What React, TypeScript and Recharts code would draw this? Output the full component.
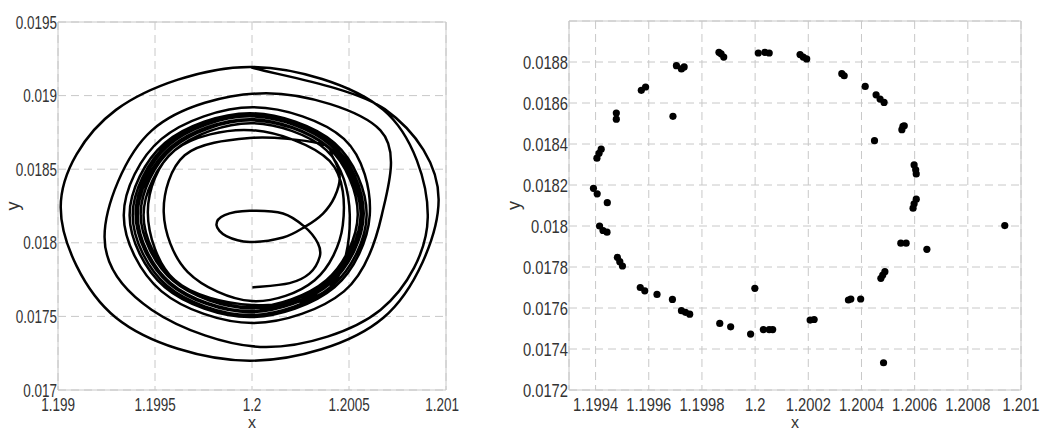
import {
  CartesianGrid,
  Line,
  LineChart,
  ReferenceArea,
  Scatter,
  ScatterChart,
  XAxis,
  YAxis,
} from 'recharts'

// left panel: phase trajectory
const startArc = [
  { x: 1.200002, y: 0.017697 },
  { x: 1.200194, y: 0.017726 },
  { x: 1.200297, y: 0.017792 },
  { x: 1.200349, y: 0.017905 },
  { x: 1.20034, y: 0.017996 },
  { x: 1.200272, y: 0.018108 },
]

const smallLoop = [
  { x: 1.20016, y: 0.018199 },
  { x: 1.199988, y: 0.018217 },
  { x: 1.199859, y: 0.018188 },
  { x: 1.199817, y: 0.01812 },
  { x: 1.199868, y: 0.018045 },
  { x: 1.199988, y: 0.018006 },
  { x: 1.20016, y: 0.018036 },
  { x: 1.200272, y: 0.018108 },
  { x: 1.200366, y: 0.018199 },
  { x: 1.200426, y: 0.018312 },
  { x: 1.200452, y: 0.018448 },
  { x: 1.200416, y: 0.018583 },
  { x: 1.200349, y: 0.018674 },
]

const middleLoops = [
  { x: 1.199988, y: 0.018712 },
  { x: 1.199653, y: 0.018595 },
  { x: 1.199545, y: 0.018208 },
  { x: 1.199669, y: 0.017801 },
  { x: 1.199999, y: 0.017604 },
  { x: 1.200323, y: 0.017746 },
  { x: 1.200468, y: 0.01812 },
  { x: 1.2004, y: 0.018556 },
  { x: 1.199999, y: 0.018765 },
  { x: 1.199602, y: 0.018629 },
  { x: 1.199463, y: 0.018208 },
  { x: 1.199602, y: 0.017746 },
  { x: 1.199999, y: 0.017578 },
  { x: 1.2004, y: 0.017693 },
  { x: 1.200504, y: 0.018188 },
]

const ringLoops = [
  { x: 1.200383, y: 0.01863 },
  { x: 1.199993, y: 0.018813 },
  { x: 1.199603, y: 0.01863 },
  { x: 1.199441, y: 0.018188 },
  { x: 1.199603, y: 0.017746 },
  { x: 1.199993, y: 0.017563 },
  { x: 1.200383, y: 0.017746 },
  { x: 1.200545, y: 0.018188 },

  { x: 1.200394, y: 0.018645 },
  { x: 1.199993, y: 0.018832 },
  { x: 1.199592, y: 0.018645 },
  { x: 1.199426, y: 0.018194 },
  { x: 1.199592, y: 0.017743 },
  { x: 1.199993, y: 0.017556 },
  { x: 1.200394, y: 0.017743 },
  { x: 1.20056, y: 0.018194 },

  { x: 1.200396, y: 0.018649 },
  { x: 1.199988, y: 0.01884 },
  { x: 1.19958, y: 0.018649 },
  { x: 1.199411, y: 0.018188 },
  { x: 1.19958, y: 0.017727 },
  { x: 1.199988, y: 0.017536 },
  { x: 1.200396, y: 0.017727 },
  { x: 1.200565, y: 0.018188 },

  { x: 1.200404, y: 0.018664 },
  { x: 1.199988, y: 0.018859 },
  { x: 1.199572, y: 0.018664 },
  { x: 1.1994, y: 0.018194 },
  { x: 1.199572, y: 0.017724 },
  { x: 1.199988, y: 0.017529 },
  { x: 1.200404, y: 0.017724 },
  { x: 1.200576, y: 0.018194 },

  { x: 1.200414, y: 0.018668 },
  { x: 1.199988, y: 0.018867 },
  { x: 1.199562, y: 0.018668 },
  { x: 1.199385, y: 0.018188 },
  { x: 1.199562, y: 0.017708 },
  { x: 1.199988, y: 0.017509 },
  { x: 1.200414, y: 0.017708 },
  { x: 1.200591, y: 0.018188 },

  { x: 1.200425, y: 0.018678 },
  { x: 1.199988, y: 0.01888 },
  { x: 1.199551, y: 0.018678 },
  { x: 1.199369, y: 0.018188 },
  { x: 1.199551, y: 0.017698 },
  { x: 1.199988, y: 0.017496 },
  { x: 1.200425, y: 0.017698 },
  { x: 1.200607, y: 0.018188 },
]

const outerLoops = [
  { x: 1.200474, y: 0.018706 },
  { x: 1.200004, y: 0.018921 },
  { x: 1.199534, y: 0.018706 },
  { x: 1.199339, y: 0.018188 },
  { x: 1.199534, y: 0.01767 },
  { x: 1.200004, y: 0.017455 },
  { x: 1.200474, y: 0.01767 },
  { x: 1.200669, y: 0.018188 },

  { x: 1.200662, y: 0.018764 },
  { x: 1.200073, y: 0.019016 },
  { x: 1.199484, y: 0.018764 },
  { x: 1.19924, y: 0.01804 },
  { x: 1.199484, y: 0.017544 },
  { x: 1.200073, y: 0.017292 },
  { x: 1.200662, y: 0.017544 },
  { x: 1.200906, y: 0.018174 },

  { x: 1.200677, y: 0.018903 },
  { x: 1.199988, y: 0.019195 },
  { x: 1.199299, y: 0.018903 },
  { x: 1.199014, y: 0.018242 },
  { x: 1.199299, y: 0.017491 },
  { x: 1.199988, y: 0.017199 },
  { x: 1.200677, y: 0.017491 },
  { x: 1.200962, y: 0.01829 },
  { x: 1.200684, y: 0.018908 },
  { x: 1.199996, y: 0.019192 },
]

const trajectory = [...startArc, ...smallLoop, ...middleLoops, ...ringLoops, ...outerLoops]

const trajXTicks = [1.199, 1.1995, 1.2, 1.2005, 1.201]
const trajYTicks = [0.017, 0.0175, 0.018, 0.0185, 0.019, 0.0195]

// right panel: section points
const sectionPoints: [number, number][] = [
  [1.199864, 0.018847], [1.199872, 0.01884], [1.199882, 0.018824],
  [1.200012, 0.018844], [1.200037, 0.018847], [1.200053, 0.018844],
  [1.200169, 0.018836], [1.200181, 0.018824], [1.200194, 0.018815],
  [1.200326, 0.018743], [1.200335, 0.018733],
  [1.200414, 0.018681],
  [1.200455, 0.01864], [1.20047, 0.018619], [1.200485, 0.018603],
  [1.200449, 0.018416],
  [1.200552, 0.01847], [1.200556, 0.018486], [1.200561, 0.018489],
  [1.200598, 0.018298], [1.200604, 0.018274], [1.200606, 0.018254],
  [1.200594, 0.018087], [1.200598, 0.018108], [1.200606, 0.018131],
  [1.200548, 0.017916], [1.200568, 0.017916],
  [1.200646, 0.017886],
  [1.200939, 0.018002],
  [1.200473, 0.017745], [1.20048, 0.017761], [1.200488, 0.017777],
  [1.200483, 0.017333],
  [1.200397, 0.017644],
  [1.200351, 0.017639], [1.20036, 0.017644],
  [1.200207, 0.017541], [1.200222, 0.017544],
  [1.200031, 0.017495], [1.200053, 0.017495], [1.200066, 0.017495],
  [1.199983, 0.017473],
  [1.199999, 0.017696],
  [1.199908, 0.017508],
  [1.199867, 0.017525],
  [1.199723, 0.017587], [1.199738, 0.017579], [1.199754, 0.01757],
  [1.199689, 0.017642],
  [1.199631, 0.017666],
  [1.199568, 0.0177], [1.199585, 0.017684],
  [1.199482, 0.017847], [1.199491, 0.017826], [1.199501, 0.017805],
  [1.199415, 0.018], [1.199428, 0.017978], [1.199443, 0.01797],
  [1.199444, 0.018114],
  [1.199392, 0.018184], [1.199406, 0.018157],
  [1.199405, 0.018331], [1.199413, 0.018355], [1.199421, 0.018375],
  [1.199478, 0.018551], [1.199478, 0.018521],
  [1.199572, 0.018662], [1.199588, 0.018678],
  [1.199691, 0.018535],
  [1.199704, 0.018782], [1.199723, 0.018766], [1.199733, 0.018776],
]

const sectionXTicks = [1.1994, 1.1996, 1.1998, 1.2, 1.2002, 1.2004, 1.2006, 1.2008, 1.201]
const sectionYTicks = [0.0172, 0.0174, 0.0176, 0.0178, 0.018, 0.0182, 0.0184, 0.0186, 0.0188]

const FONT = "'Liberation Sans', Arial, sans-serif"
const TEXT = '#333'
const GRID = '#c8c8c8'

const fmt = (v: number) => String(parseFloat(v.toFixed(6)))

// smooth curve through the points (Catmull-Rom as cubic beziers), so loops stay round
const catmullRom = (context: any) => {
  let pts: number[][] = []
  return {
    areaStart() {},
    areaEnd() {},
    lineStart() {
      pts = []
    },
    point(x: number, y: number) {
      pts.push([+x, +y])
    },
    lineEnd() {
      const n = pts.length
      if (!n) return
      context.moveTo(pts[0][0], pts[0][1])
      for (let i = 0; i < n - 1; i++) {
        const p0 = pts[Math.max(i - 1, 0)]
        const p1 = pts[i]
        const p2 = pts[i + 1]
        const p3 = pts[Math.min(i + 2, n - 1)]
        context.bezierCurveTo(
          p1[0] + (p2[0] - p0[0]) / 6,
          p1[1] + (p2[1] - p0[1]) / 6,
          p2[0] - (p3[0] - p1[0]) / 6,
          p2[1] - (p3[1] - p1[1]) / 6,
          p2[0],
          p2[1],
        )
      }
    },
  }
}

function AxisTick(props: any) {
  const { x, y, payload, vertical, sx } = props
  return (
    <text
      transform={`translate(${x},${y}) scale(${sx},1)`}
      x={0}
      y={vertical ? 6.5 : 21}
      textAnchor={vertical ? 'end' : 'middle'}
      fontSize={18}
      fontFamily={FONT}
      fill={TEXT}
    >
      {fmt(payload.value)}
    </text>
  )
}

const xTitle = (props: any) => {
  const vb = props.viewBox
  return (
    <text x={vb.x + vb.width / 2} y={vb.y + 38} textAnchor="middle" fontSize={16} fontFamily={FONT} fill={TEXT}>
      x
    </text>
  )
}

const yTitle = (offset: number) => (props: any) => {
  const vb = props.viewBox
  const cx = vb.x + offset
  const cy = vb.y + vb.height / 2
  return (
    <text x={cx} y={cy} transform={`rotate(-90, ${cx}, ${cy})`} textAnchor="middle" fontSize={18} fontFamily={FONT} fill={TEXT}>
      y
    </text>
  )
}

const Dot = (props: any) => <circle cx={props.cx} cy={props.cy} r={3.6} fill="#000" />

export default function App() {
  const section = sectionPoints.map(([x, y]) => ({ x, y }))
  return (
    <div style={{ position: 'absolute', left: 0, top: 0, width: 1056, height: 432, background: '#fff' }}>
      <div style={{ position: 'absolute', left: 0, top: 0 }}>
        <LineChart width={460} height={432} data={trajectory} margin={{ top: 22, right: 14, bottom: 0, left: 0 }}>
          <CartesianGrid stroke={GRID} strokeDasharray="8 5" />
          <XAxis
            dataKey="x"
            type="number"
            domain={[1.199, 1.201]}
            ticks={trajXTicks}
            allowDataOverflow
            height={42}
            axisLine={false}
            tickLine={false}
            tickSize={0}
            tickMargin={0}
            tick={(p: any) => <AxisTick {...p} sx={0.75} />}
            label={xTitle}
          />
          <YAxis
            dataKey="y"
            type="number"
            domain={[0.017, 0.0195]}
            ticks={trajYTicks}
            allowDataOverflow
            width={58}
            axisLine={false}
            tickLine={false}
            tickSize={0}
            tickMargin={1}
            tick={(p: any) => <AxisTick {...p} vertical sx={0.75} />}
            label={yTitle(19)}
          />
          <ReferenceArea x1={1.199} x2={1.201} y1={0.017} y2={0.0195} fill="none" stroke={GRID} ifOverflow="visible" />
          <Line
            type={catmullRom as any}
            dataKey="y"
            stroke="#000"
            strokeWidth={2.5}
            dot={false}
            isAnimationActive={false}
          />
        </LineChart>
      </div>
      <div style={{ position: 'absolute', left: 500, top: 0 }}>
        <ScatterChart width={540} height={432} margin={{ top: 21, right: 19, bottom: 0, left: 0 }}>
          <CartesianGrid stroke={GRID} strokeDasharray="8 5" />
          <XAxis
            dataKey="x"
            type="number"
            domain={[1.1993, 1.201]}
            ticks={sectionXTicks}
            allowDataOverflow
            height={42}
            axisLine={false}
            tickLine={false}
            tickSize={0}
            tickMargin={0}
            tick={(p: any) => <AxisTick {...p} sx={0.82} />}
            label={xTitle}
          />
          <YAxis
            dataKey="y"
            type="number"
            domain={[0.0172, 0.019]}
            ticks={sectionYTicks}
            allowDataOverflow
            width={69}
            axisLine={false}
            tickLine={false}
            tickSize={0}
            tickMargin={1}
            tick={(p: any) => <AxisTick {...p} vertical sx={0.82} />}
            label={yTitle(20)}
          />
          <ReferenceArea x1={1.1993} x2={1.201} y1={0.0172} y2={0.019} fill="none" stroke={GRID} ifOverflow="visible" />
          <Scatter data={section} shape={Dot} isAnimationActive={false} />
        </ScatterChart>
      </div>
    </div>
  )
}
